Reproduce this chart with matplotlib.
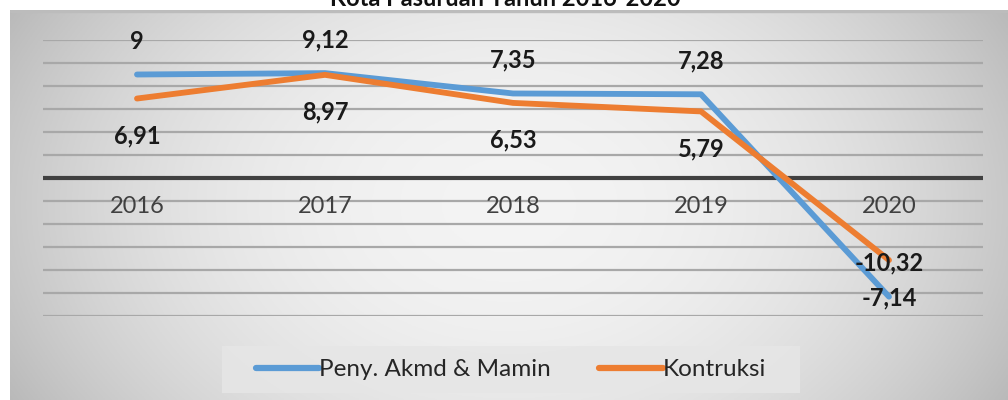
import numpy as np
import matplotlib
matplotlib.use("Agg")
import matplotlib.pyplot as plt
from matplotlib.patches import Rectangle

plt.rcParams['font.family'] = ['Lato', 'DejaVu Sans']

# ---- data ----
years = ["2016", "2017", "2018", "2019", "2020"]
peny_akmd = [9, 9.12, 7.35, 7.28, -10.32]
kontruksi = [6.91, 8.97, 6.53, 5.79, -7.14]
series_names = ["Peny. Akmd & Mamin", "Kontruksi"]
title = "Kota Pasuruan Tahun 2016-2020"
y_ticks = list(range(-12, 13, 2))

BLUE = "#5B9BD5"
ORANGE = "#ED7D31"

def fmt(v):
    s = ("%g" % v)
    return s.replace(".", ",")

fig = plt.figure(figsize=(10.08, 4.0), dpi=100)
fig.patch.set_facecolor("white")

# chart-area background with gradient
bg = fig.add_axes([10/1008, 0, 1 - 10/1008, 1 - 10/400])
bg.set_axis_off()
nx, ny = 400, 200
xx = np.linspace(-1, 1, nx)
yy = np.linspace(-1, 1, ny)
X, Y = np.meshgrid(xx, yy)
r = np.sqrt((X * 1.0) ** 2 + (Y * 0.55) ** 2)
val = 0.955 - 0.17 * np.clip(r, 0, 1.3) ** 2.2
img = np.dstack([val, val, val])
bg.imshow(img, aspect="auto", extent=[0, 1, 0, 1], origin="lower")
bg.set_xlim(0, 1); bg.set_ylim(0, 1)
bg.add_patch(Rectangle((0, 0.995), 1, 0.005, transform=bg.transAxes, color="#bcbcbc"))

# plot area
ax = fig.add_axes([43/1008, 1 - 316/400, (983 - 43)/1008, (316 - 40)/400])
ax.patch.set_alpha(0)
x = np.arange(len(years))
ax.set_xlim(-0.5, len(years) - 0.5)
ax.set_ylim(min(y_ticks), max(y_ticks))

for t in y_ticks:
    if t == 0:
        continue
    ax.axhline(t, color="#a8a8a8", lw=1.6, zorder=1)
ax.axhline(0, color="#404040", lw=3.0, zorder=2)

l1, = ax.plot(x, peny_akmd, color=BLUE, lw=4.2, solid_capstyle="round",
              solid_joinstyle="round", zorder=3, label=series_names[0])
l2, = ax.plot(x, kontruksi, color=ORANGE, lw=4.2, solid_capstyle="round",
              solid_joinstyle="round", zorder=4, label=series_names[1])

for xi, v in zip(x, peny_akmd):
    ax.annotate(fmt(v), (xi, v), xytext=(0, 24), textcoords="offset points",
                ha="center", va="center", fontsize=17, fontweight="bold",
                color="#1a1a1a", zorder=5)
for xi, v in zip(x, kontruksi):
    ax.annotate(fmt(v), (xi, v), xytext=(0, -27), textcoords="offset points",
                ha="center", va="center", fontsize=17, fontweight="bold",
                color="#1a1a1a", zorder=5)

ax.spines['bottom'].set_position(('data', 0))
ax.set_yticks([])
ax.set_xticks(x)
ax.set_xticklabels(years, fontsize=17, color="#404040")
ax.tick_params(axis="x", length=0, pad=13, labelsize=17, labelcolor="#404040")
for s in ax.spines.values():
    s.set_visible(False)

# legend box
leg_ax = fig.add_axes([222/1008, 1 - 393/400, (800 - 222)/1008, (393 - 346)/400])
leg_ax.set_axis_off()
leg_ax.add_patch(Rectangle((0, 0), 1, 1, transform=leg_ax.transAxes,
                           facecolor="#e6e6e6", edgecolor="none", alpha=0.85))
leg = leg_ax.legend(handles=[l1, l2], labels=series_names, loc="center",
                    ncol=2, frameon=False, fontsize=17.5, handlelength=2.6,
                    handletextpad=0.0, columnspacing=2.0)
for txt in leg.get_texts():
    txt.set_color("#262626")
for h in leg.legend_handles:
    h.set_linewidth(4.5)
    h.set_solid_capstyle("round")

fig.text(505/1008, 1.0 + 2/400, title, ha="center", va="center",
         fontsize=17, fontweight="bold", color="#111111")

fig.savefig("out.png", dpi=100)
